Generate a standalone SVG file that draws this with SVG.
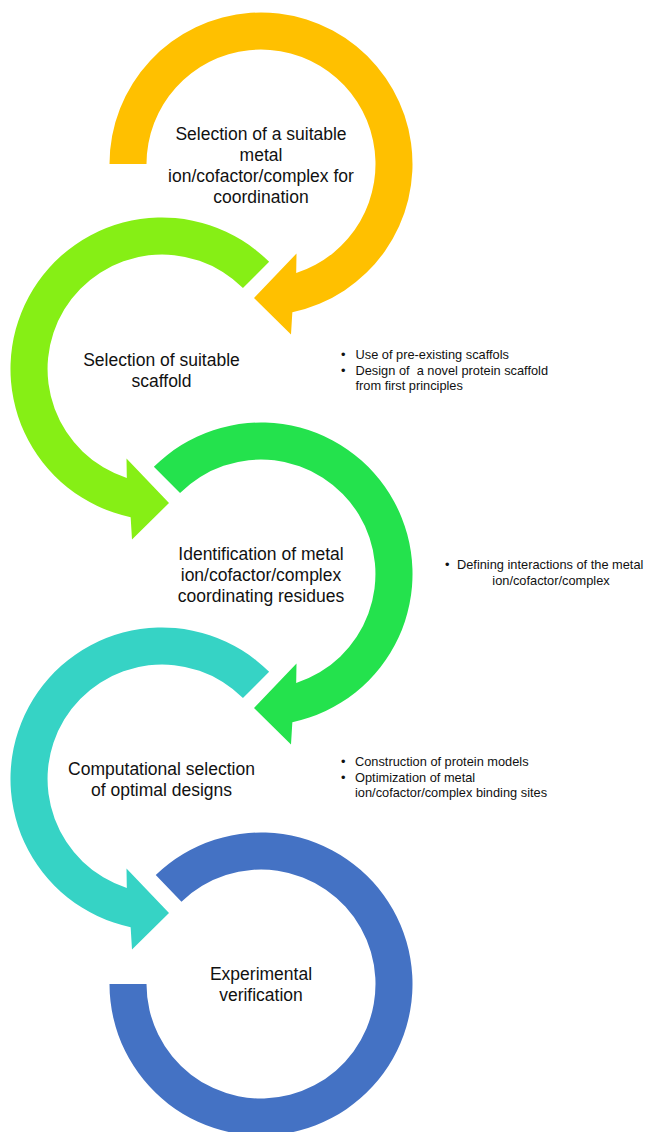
<svg xmlns="http://www.w3.org/2000/svg" width="646" height="1132" viewBox="0 0 646 1132">
  <style>
    .lbl { font-family: "Liberation Sans", Arial, sans-serif; font-size: 17.5px; fill: #111; text-anchor: middle; }
    .note { font-family: "Liberation Sans", Arial, sans-serif; font-size: 12.8px; fill: #111; }
    .note2 { font-family: "Liberation Sans", Arial, sans-serif; font-size: 12.8px; fill: #111; }
  </style>
  <rect width="646" height="1132" fill="#ffffff"/>

  <g id="step5-experimental">
    <path fill="#4472C4" d="M 109.5 984 A 151.5 151.5 0 1 0 155.75 875.02 L 181.46 901.64 A 114.5 114.5 0 1 1 146.5 984 Z"/>
    <text class="lbl"><tspan x="261" y="980">Experimental</tspan><tspan x="261" y="1001">verification</tspan></text>
  </g>

  <g id="step4-computational">
    <path fill="#36D3C5" d="M 269.13 671.87 A 151.5 151.5 0 1 0 130.65 927.2 L 132 949.5 L 169 913 L 126.5 868.5 L 126.8 888 A 114.5 114.5 0 1 1 242.96 698.04 Z"/>
    <text class="lbl"><tspan x="161.5" y="775">Computational selection</tspan><tspan x="161.5" y="796">of optimal designs</tspan></text>
  </g>

  <g id="step3-identification">
    <path fill="#24E24D" d="M 153.87 466.87 A 151.5 151.5 0 1 1 292.35 722.2 L 291 744.5 L 254 708 L 296.5 663.5 L 296.2 683 A 114.5 114.5 0 1 0 180.04 493.04 Z"/>
    <text class="lbl"><tspan x="261" y="560">Identification of metal</tspan><tspan x="261" y="581">ion/cofactor/complex</tspan><tspan x="261" y="602">coordinating residues</tspan></text>
  </g>

  <g id="step2-scaffold">
    <path fill="#86EF15" d="M 269.13 261.87 A 151.5 151.5 0 1 0 130.65 517.2 L 132 539.5 L 169 503 L 126.5 458.5 L 126.8 478 A 114.5 114.5 0 1 1 242.96 288.04 Z"/>
    <text class="lbl"><tspan x="161.5" y="366">Selection of suitable</tspan><tspan x="161.5" y="387">scaffold</tspan></text>
  </g>

  <g id="step1-metal">
    <path fill="#FFC000" d="M 109.5 164 A 151.5 151.5 0 1 1 292.35 312.2 L 291 334.5 L 254 298 L 296.5 253.5 L 296.2 273 A 114.5 114.5 0 1 0 146.5 164 Z"/>
    <text class="lbl"><tspan x="261" y="140">Selection of a suitable</tspan><tspan x="261" y="161.1">metal</tspan><tspan x="261" y="182.2">ion/cofactor/complex for</tspan><tspan x="261" y="203.3">coordination</tspan></text>
  </g>

  <g id="note-scaffold">
    <text class="note" x="341" y="358.5">•</text>
    <text class="note" x="355.5" y="358.5">Use of pre-existing scaffols</text>
    <text class="note" x="341" y="374.5">•</text>
    <text class="note" x="355.5" y="374.5" xml:space="preserve">Design of  a novel protein scaffold</text>
    <text class="note" x="355.5" y="389.5">from first principles</text>
  </g>

  <g id="note-interactions">
    <text class="note2" x="445" y="569">•</text>
    <text class="note2" x="457" y="569">Defining interactions of the metal</text>
    <text class="note2" x="551" y="585" text-anchor="middle">ion/cofactor/complex</text>
  </g>

  <g id="note-computational">
    <text class="note" x="341" y="765.5">•</text>
    <text class="note" x="355" y="765.5">Construction of protein models</text>
    <text class="note" x="341" y="782">•</text>
    <text class="note" x="355" y="782">Optimization of metal</text>
    <text class="note" x="355" y="797">ion/cofactor/complex binding sites</text>
  </g>
</svg>
